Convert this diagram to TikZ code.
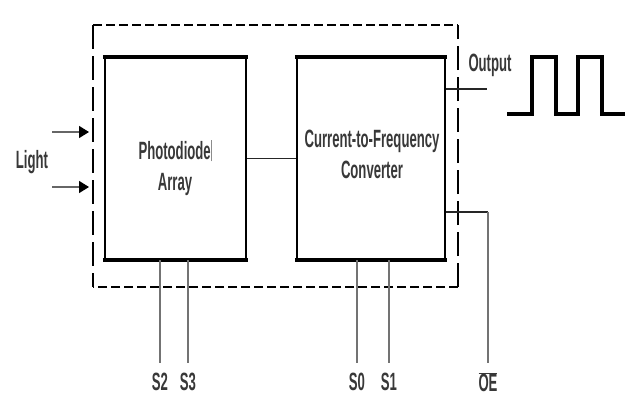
\documentclass[tikz,border=0pt]{standalone}
\usepackage{fontspec}
\setmainfont{Liberation Sans Bold}[FakeStretch=0.525]
\usetikzlibrary{arrows.meta}
\begin{document}
\begin{tikzpicture}[x=1pt,y=-1pt,
  blk/.style={draw=black, line width=2.2pt, inner sep=0pt, minimum height=201pt},
  thickedge/.style={line width=4.2pt, line cap=butt},
  txt/.style={text=black!78, font=\fontsize{25}{31}\selectfont, align=center, inner sep=0pt},
  pin/.style={draw=black!55, line width=1.1pt},
  wire/.style={draw=black!85, line width=1.4pt},
  dshh/.style={line width=2.6pt, dash pattern=on 9pt off 4pt},
  dshv/.style={line width=2.6pt, dash pattern=on 24pt off 7pt},
  lightarr/.style={draw=black!60, line width=1.5pt, -{Triangle[length=10pt,width=12pt,color=black]}},
  wave/.style={line width=4pt, line join=miter}]
\useasboundingbox[fill=white] (0,0) rectangle (625,407);

% blocks
\node[blk, minimum width=141pt] (pd) at (175.5,158.5) {};
\node[blk, minimum width=148pt] (cv) at (371,158.5) {};
\foreach \b in {pd,cv}{
  \draw[thickedge] ([xshift=-1.1pt]\b.north west) -- ([xshift=1.1pt]\b.north east);
  \draw[thickedge] ([xshift=-1.1pt]\b.south west) -- ([xshift=1.1pt]\b.south east);
}
\node[txt] (pdt) at (175,168) {Photodiode\textcolor{black!45}{\rule[-2pt]{0.7pt}{21pt}}\\Array};
\node[txt] (cvt) at (372,154) {Current-to-Frequency\\Converter};

% dashed package outline
\coordinate (dtl) at (93,25);
\coordinate (dtr) at (458,25);
\coordinate (dbl) at (93,287);
\coordinate (dbr) at (458,287);
\draw[dshh] (dtl) -- (dtr);
\draw[dshh] (dbr) -- (dbl);
\draw[dshv] (dtl) -- (dbl);
\draw[dshv] (dbr) -- (dtr);

% connection between blocks
\draw[wire] (pd) -- (cv);

% light inputs
\coordinate (l1s) at (52,132); \coordinate (l1e) at (89,132);
\coordinate (l2s) at (52,187); \coordinate (l2e) at (89,187);
\draw[lightarr] (l1s) -- (l1e);
\draw[lightarr] (l2s) -- (l2e);
\node[txt] (light) at (32,162) {Light};

% output
\coordinate (out) at (487,89);
\draw[wire] (cv.east |- out) -- (out);
\node[txt] (outl) at (490,65) {Output};
\draw[wave] (507,114) -- (532,114) -- (532,57) -- (556,57) -- (556,114) -- (578,114) -- (578,57) -- (602,57) -- (602,114) -- (625,114);

% OE
\coordinate (oec) at (488,212);
\coordinate (oe) at (488,363);
\draw[wire] (cv.east |- oec) -- (oec);
\draw[pin] (oec) -- (oe);
\node[txt] (oel) at (488,382) {$\overline{\hbox{OE}}$};

% select pins
\coordinate (s2) at (160,363);
\coordinate (s3) at (188,363);
\coordinate (s0) at (357,363);
\coordinate (s1) at (389,363);
\draw[pin] (pd.south -| s2) -- (s2);
\draw[pin] (pd.south -| s3) -- (s3);
\draw[pin] (cv.south -| s0) -- (s0);
\draw[pin] (cv.south -| s1) -- (s1);
\node[txt] (s2l) at (160,382) {S2};
\node[txt] (s3l) at (188,382) {S3};
\node[txt] (s0l) at (357,382) {S0};
\node[txt] (s1l) at (389,382) {S1};
\end{tikzpicture}
\end{document}
